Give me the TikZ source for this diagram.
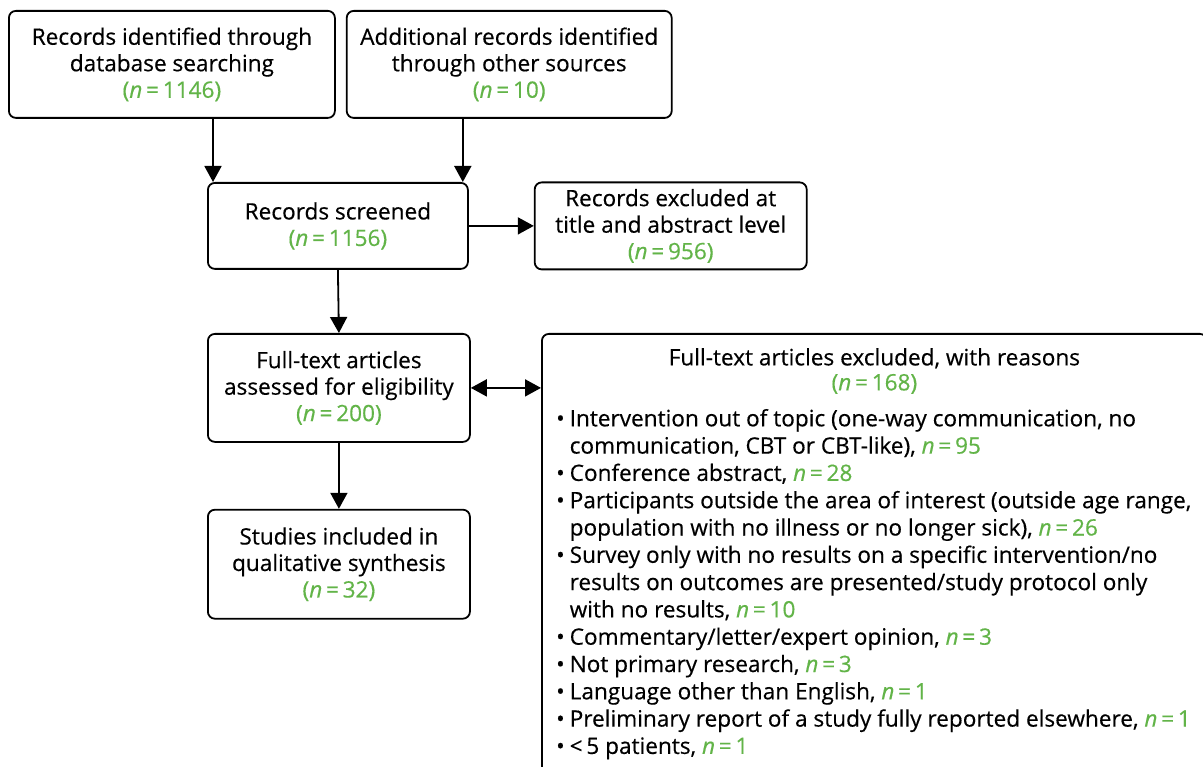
\documentclass[tikz,border=0pt]{standalone}
\usepackage{fontspec}
\setmainfont{Open Sans}[FakeBold=0.4]
\usepackage{xcolor}
\definecolor{prismaGreen}{RGB}{98,180,72}
\usetikzlibrary{positioning,arrows.meta,calc}
\newcommand{\ncount}[1]{\textcolor{prismaGreen}{(\textit{n}\,=\,#1)}}
\newcommand{\nreason}[1]{\textcolor{prismaGreen}{\textit{n}\,=\,#1}}
\tikzset{
  flowbox/.style={rectangle,draw=black,fill=white,line width=1.8pt,
    rounded corners=7pt,align=center,inner sep=0pt,
    font=\fontsize{22.6}{26.5}\selectfont},
  arrow/.style={-{Triangle[length=16pt,width=17pt]},line width=1.8pt},
  dblarrow/.style={{Triangle[length=16pt,width=17pt]}-{Triangle[length=16pt,width=17pt]},line width=1.8pt},
  boxtext/.style={inner sep=0pt,align=center,font=\fontsize{22.6}{25}\selectfont},
  listtext/.style={inner sep=0pt,align=left,font=\fontsize{22.6}{27.3}\selectfont}
}

\begin{document}
\begin{tikzpicture}[x=1pt,y=-1pt]
  \useasboundingbox (0,0) rectangle (1203,767);
  % identification
  \node[flowbox, minimum width=326pt, minimum height=107pt, anchor=north west] (dbase) at (8,10)
    {Records identified through\\database searching\\\ncount{1146}};
  \node[flowbox, minimum width=325pt, minimum height=107pt, right=10pt of dbase] (other)
    {Additional records identified\\through other sources\\\ncount{10}};
  % screening
  \node[flowbox, minimum width=260pt, minimum height=86pt, anchor=north west] (screen) at (207,182)
    {Records screened\\\ncount{1156}};
  \node[flowbox, minimum width=272pt, minimum height=87pt, right=65pt of screen] (exclTA)
    {Records excluded at\\title and abstract level\\\ncount{956}};
  % eligibility
  \node[flowbox, minimum width=262pt, minimum height=108pt, anchor=north west] (fulltext) at (207,333)
    {Full-text articles\\assessed for eligibility\\\ncount{200}};
  \node[flowbox, minimum width=262pt, minimum height=109pt, below=66pt of fulltext] (included)
    {Studies included in\\qualitative synthesis\\\ncount{32}};
  \node[flowbox, minimum width=665pt, minimum height=442pt, anchor=north west] (exclFT) at (541,333) {};
  \node[boxtext, below=15pt of exclFT.north] (exclTitle)
    {Full-text articles excluded, with reasons\\\ncount{168}};
  \node[listtext, anchor=north west] (exclList) at (556,407)
    {\begin{tabular}{@{}l@{\hspace{5pt}}l@{}}
      \textbullet & Intervention out of topic (one-way communication, no\\
                  & communication, CBT or CBT-like), \nreason{95}\\
      \textbullet & Conference abstract, \nreason{28}\\
      \textbullet & Participants outside the area of interest (outside age range,\\
                  & population with no illness or no longer sick), \nreason{26}\\
      \textbullet & Survey only with no results on a specific intervention/no\\
                  & results on outcomes are presented/study protocol only\\
                  & with no results, \nreason{10}\\
      \textbullet & Commentary/letter/expert opinion, \nreason{3}\\
      \textbullet & Not primary research, \nreason{3}\\
      \textbullet & Language other than English, \nreason{1}\\
      \textbullet & Preliminary report of a study fully reported elsewhere, \nreason{1}\\
      \textbullet & <\,5 patients, \nreason{1}
    \end{tabular}};
  % connectors
  \draw[arrow] ([xshift=6pt]screen.north west |- dbase.south) -- ([xshift=6pt]screen.north west);
  \draw[arrow] ([xshift=-6pt]screen.north east |- other.south) -- ([xshift=-6pt]screen.north east);
  \draw[arrow] (screen.east) -- (exclTA.west);
  \draw[arrow] (screen.south) -- (fulltext.north);
  \draw[dblarrow] (fulltext.east) -- (fulltext.east -| exclFT.west);
  \draw[arrow] (fulltext.south) -- (included.north);
\end{tikzpicture}
\end{document}
